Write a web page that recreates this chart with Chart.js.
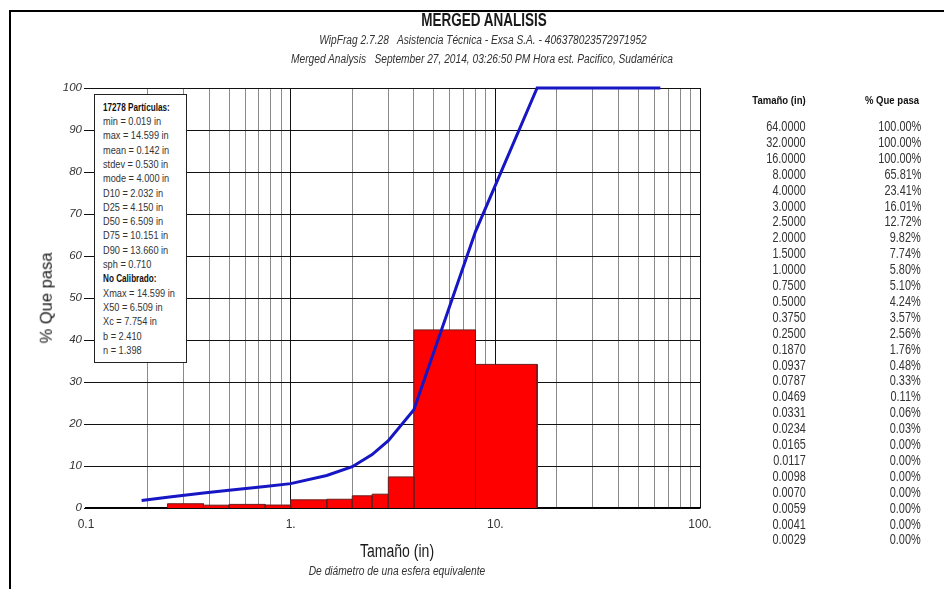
<!DOCTYPE html>
<html>
<head>
<meta charset="utf-8">
<script src="https://cdn.jsdelivr.net/npm/chart.js@4.4.1/dist/chart.umd.min.js"></script>
<style>
  html, body { margin: 0; padding: 0; background: #fff; }
  #wrap { position: relative; width: 944px; height: 589px; overflow: hidden; background: #fff;
          font-family: 'Liberation Sans', Arial, sans-serif; color: #2a2a2a; }
  #c { position: absolute; left: 0; top: 0; }
  .frame-top { position: absolute; left: 9px; top: 10px; width: 940px; height: 2px; background: #000; }
  .frame-left { position: absolute; left: 9px; top: 10px; width: 2px; height: 590px; background: #000; }
  .t { position: absolute; white-space: pre; line-height: 1; transform: translate(-50%, -50%); }
  .n { display: inline-block; white-space: pre; }
  #stats { position: absolute; left: 94px; top: 94px; width: 93px; height: 269px; background: #fff;
           border: 1px solid #222; box-sizing: border-box; }
  #stats div { position: absolute; left: 8px; white-space: pre; font-size: 11.5px; line-height: 1;
               transform: translateY(-50%); color: #333; }
  .row { position: absolute; font-size: 14px; line-height: 1; transform: translateY(-50%); color: #333; white-space: pre; }
</style>
</head>
<body>
<div id="wrap">
  <canvas id="c" width="944" height="589"></canvas>
  <div class="frame-top"></div>
  <div class="frame-left"></div>
  <div id="stats"></div>
</div>
<script>
// Cumulative passing table (size in inches, percent passing)
const sizes = [64, 32, 16, 8, 4, 3, 2.5, 2, 1.5, 1, 0.75, 0.5, 0.375, 0.25, 0.187,
               0.0937, 0.0787, 0.0469, 0.0331, 0.0234, 0.0165, 0.0117, 0.0098, 0.0070,
               0.0059, 0.0041, 0.0029];
const passing = [100, 100, 100, 65.81, 23.41, 16.01, 12.72, 9.82, 7.74, 5.80, 5.10, 4.24,
                 3.57, 2.56, 1.76, 0.48, 0.33, 0.11, 0.06, 0.03, 0, 0, 0, 0, 0, 0, 0];

// Size classes of the histogram (edges in inches) and percent retained in each class
const binEdges = [0.25, 0.375, 0.5, 0.75, 1, 1.5, 2, 2.5, 3, 4, 8, 16];
const binPercent = [1.01, 0.67, 0.86, 0.70, 1.94, 2.08, 2.90, 3.29, 7.40, 42.40, 34.19];

// Smallest size shown on the passing curve
const curveMinSize = 0.187;

// Axis ticks
const xGrid = [0.1, 0.2, 0.3, 0.4, 0.5, 0.6, 0.7, 0.8, 0.9,
               1, 2, 3, 4, 5, 6, 7, 8, 9,
               10, 20, 30, 40, 50, 60, 70, 80, 90, 100];
const xTickLabels = { 0.1: '0.1', 1: '1.', 10: '10.', 100: '100.' };
const yTicks = [0, 10, 20, 30, 40, 50, 60, 70, 80, 90, 100];

// Summary statistics
const statsLines = ['17278 Partículas:', 'min = 0.019 in', 'max = 14.599 in', 'mean = 0.142 in',
  'stdev = 0.530 in', 'mode = 4.000 in', 'D10 = 2.032 in', 'D25 = 4.150 in', 'D50 = 6.509 in',
  'D75 = 10.151 in', 'D90 = 13.660 in', 'sph = 0.710', 'No Calibrado:', 'Xmax = 14.599 in',
  'X50 = 6.509 in', 'Xc = 7.754 in', 'b = 2.410', 'n = 1.398'];
const statsBold = [0, 12];

const FONT = "'Liberation Sans', Arial, sans-serif";
const wrap = document.getElementById('wrap');

// Text squeezed horizontally to a narrow face
function narrow(text, k, origin) {
  const s = document.createElement('span');
  s.className = 'n';
  s.textContent = text;
  s.style.transform = 'scaleX(' + k + ')';
  s.style.transformOrigin = origin || 'center';
  return s;
}

function addText(text, x, y, k, style) {
  const d = document.createElement('div');
  d.className = 't';
  d.appendChild(narrow(text, k));
  d.style.left = x + 'px';
  d.style.top = y + 'px';
  Object.assign(d.style, style || {});
  wrap.appendChild(d);
  return d;
}

// Headings
addText('MERGED ANALISIS', 484, 20, 0.75, { fontSize: '18px', fontWeight: 'bold', color: '#1a1a1a' });
addText('WipFrag 2.7.28   Asistencia Técnica - Exsa S.A. - 406378023572971952', 483, 40, 0.815,
        { fontSize: '12.5px', fontStyle: 'italic', color: '#333' });
addText('Merged Analysis   September 27, 2014, 03:26:50 PM Hora est. Pacifico, Sudamérica', 482, 59, 0.815,
        { fontSize: '12.5px', fontStyle: 'italic', color: '#333' });

// Axis titles
addText('Tamaño (in)', 397, 551, 0.78, { fontSize: '18px', color: '#1a1a1a' });
addText('De diámetro de una esfera equivalente', 397, 571, 0.82, { fontSize: '12.5px', fontStyle: 'italic', color: '#333' });
const yTitle = addText('% Que pasa', 46, 298, 1, { fontSize: '16.5px', color: '#1a1a1a' });
yTitle.style.transform = 'translate(-50%, -50%) rotate(-90deg)';

// Statistics box
const stats = document.getElementById('stats');
statsLines.forEach((s, i) => {
  const bold = statsBold.includes(i);
  const d = document.createElement('div');
  d.appendChild(narrow(s, bold ? 0.71 : 0.8, 'left'));
  d.style.top = (12.7 + i * 14.3) + 'px';
  if (bold) { d.style.fontWeight = 'bold'; d.style.color = '#111'; }
  stats.appendChild(d);
});

// Passing table on the right
addText('Tamaño (in)', 779, 101, 0.83, { fontSize: '11.5px', fontWeight: 'bold', color: '#111' });
addText('% Que pasa', 892, 101, 0.83, { fontSize: '11.5px', fontWeight: 'bold', color: '#111' });
sizes.forEach((s, i) => {
  const y = 126 + i * 15.9;
  const a = document.createElement('div');
  a.className = 'row';
  a.appendChild(narrow(s.toFixed(4), 0.78, 'right'));
  a.style.right = (944 - 806) + 'px';
  a.style.top = y + 'px';
  wrap.appendChild(a);
  const b = document.createElement('div');
  b.className = 'row';
  b.appendChild(narrow(passing[i].toFixed(2) + '%', 0.78, 'right'));
  b.style.right = (944 - 921) + 'px';
  b.style.top = y + 'px';
  wrap.appendChild(b);
});

// Datasets
const curve = [];
sizes.forEach((s, i) => { if (s >= curveMinSize) curve.push({ x: s, y: passing[i] }); });
curve.reverse();

const datasets = [{
  data: curve,
  borderColor: '#1616c4',
  borderWidth: 3,
  pointRadius: 0,
  tension: 0,
  fill: false,
  clip: false,
  order: 0
}];
binPercent.forEach((h, i) => {
  const x0 = binEdges[i], x1 = binEdges[i + 1];
  datasets.push({
    data: [{ x: x0, y: 0 }, { x: x0, y: h }, { x: x1, y: h }, { x: x1, y: 0 }],
    borderColor: '#6a1c1c',
    borderWidth: 1,
    backgroundColor: '#ff0000',
    pointRadius: 0,
    tension: 0,
    fill: 'origin',
    order: 1
  });
});

new Chart(document.getElementById('c'), {
  type: 'line',
  data: { datasets },
  options: {
    responsive: false,
    animation: false,
    events: [],
    layout: { padding: { left: 0, top: 88, right: 244, bottom: 0 } },
    plugins: { legend: { display: false }, tooltip: { enabled: false }, title: { display: false } },
    scales: {
      x: {
        type: 'logarithmic',
        min: 0.1, max: 100,
        afterBuildTicks: (s) => { s.ticks = xGrid.map(v => ({ value: v })); },
        afterFit: (s) => { s.height = 81; },
        grid: {
          drawTicks: false,
          lineWidth: 1,
          color: (ctx) => {
            const v = ctx.tick ? ctx.tick.value : 0;
            if (v === 0.1) return 'rgba(0,0,0,0)';
            if (v === 1 || v === 10 || v === 100) return '#111';
            return '#8a8a8a';
          }
        },
        border: { color: '#000', width: 1.5 },
        ticks: {
          autoSkip: false, maxRotation: 0, padding: 9,
          color: '#333',
          font: { family: FONT, size: 12 },
          callback: (v) => xTickLabels[v] || ''
        }
      },
      y: {
        min: 0, max: 100,
        afterBuildTicks: (s) => { s.ticks = yTicks.map(v => ({ value: v })); },
        afterFit: (s) => { s.width = 86; },
        grid: { color: '#111', lineWidth: 1, tickLength: 2 },
        border: { display: false },
        ticks: {
          padding: 2, color: '#333',
          font: { family: FONT, size: 11.5, style: 'italic' }
        }
      }
    }
  }
});
</script>
</body>
</html>
